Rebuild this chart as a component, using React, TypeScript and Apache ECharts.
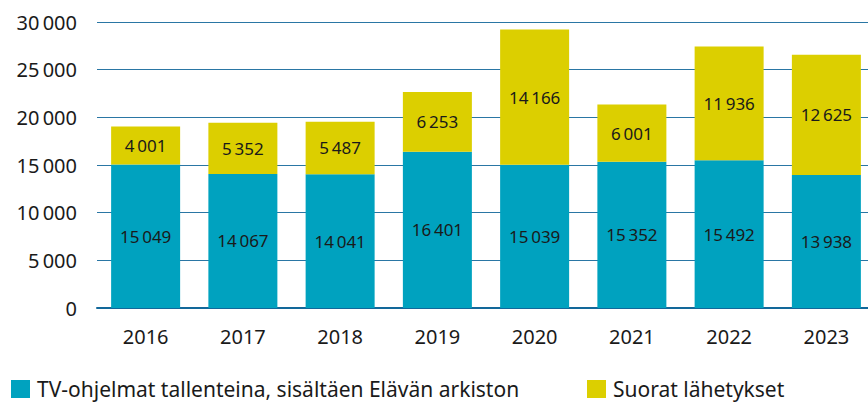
import React, { useEffect, useRef } from "react";
import * as echarts from "echarts";

const years = ["2016", "2017", "2018", "2019", "2020", "2021", "2022", "2023"];
const recorded = [15049, 14067, 14041, 16401, 15039, 15352, 15492, 13938];
const live = [4001, 5352, 5487, 6253, 14166, 6001, 11936, 12625];
const seriesNames = ["TV-ohjelmat tallenteina, sisältäen Elävän arkiston", "Suorat lähetykset"];

const fmt = (n: number) => String(n).replace(/\B(?=(\d{3})+(?!\d))/g, "\u202F");

const FONT = "Noto Sans";
const TEXT = "#1a1a1a";

export default function App() {
  const ref = useRef<HTMLDivElement>(null);
  useEffect(() => {
    if (!ref.current) return;
    const chart = echarts.init(ref.current, undefined, { renderer: "svg" });
    const label = {
      show: true,
      position: "inside" as const,
      color: TEXT,
      fontFamily: FONT,
      fontSize: 17,
      formatter: (p: any) => fmt(p.value),
    };
    const legendBase = {
      top: 373,
      icon: "rect",
      itemWidth: 19,
      itemHeight: 18,
      textStyle: { fontFamily: FONT, fontSize: 21, lineHeight: 22, color: TEXT, padding: [0, 0, 0, 2] },
    };
    chart.setOption({
      animation: false,
      textStyle: { fontFamily: FONT, color: TEXT },
      grid: { left: 97, right: 5, top: 22, bottom: 94, containLabel: false },
      legend: [
        { ...legendBase, data: [seriesNames[0]], left: 6 },
        { ...legendBase, data: [seriesNames[1]], left: 582 },
      ],
      xAxis: {
        type: "category",
        data: years,
        axisTick: { show: false },
        axisLine: { show: true, lineStyle: { color: "#12689a", width: 2 } },
        axisLabel: { color: TEXT, fontFamily: FONT, fontSize: 20, margin: 18 },
      },
      yAxis: {
        type: "value",
        min: 0,
        max: 30000,
        interval: 5000,
        axisLine: { show: false },
        axisTick: { show: false },
        splitLine: { lineStyle: { color: "#2a76a4", width: 1 } },
        axisLabel: {
          color: TEXT,
          fontFamily: FONT,
          fontSize: 20,
          margin: 20,
          formatter: (v: number) => fmt(v),
        },
      },
      series: [
        {
          name: seriesNames[0],
          type: "bar",
          stack: "total",
          data: recorded,
          barWidth: 69,
          itemStyle: { color: "#00a2bf" },
          label,
        },
        {
          name: seriesNames[1],
          type: "bar",
          stack: "total",
          data: live,
          barWidth: 69,
          itemStyle: { color: "#dccf00" },
          label,
        },
      ],
    });
    return () => chart.dispose();
  }, []);
  return (
    <div style={{ position: "absolute", left: 0, top: 0, width: 868, height: 402, overflow: "hidden", background: "#fff" }}>
      <div ref={ref} style={{ width: 880, height: 402 }} />
    </div>
  );
}
